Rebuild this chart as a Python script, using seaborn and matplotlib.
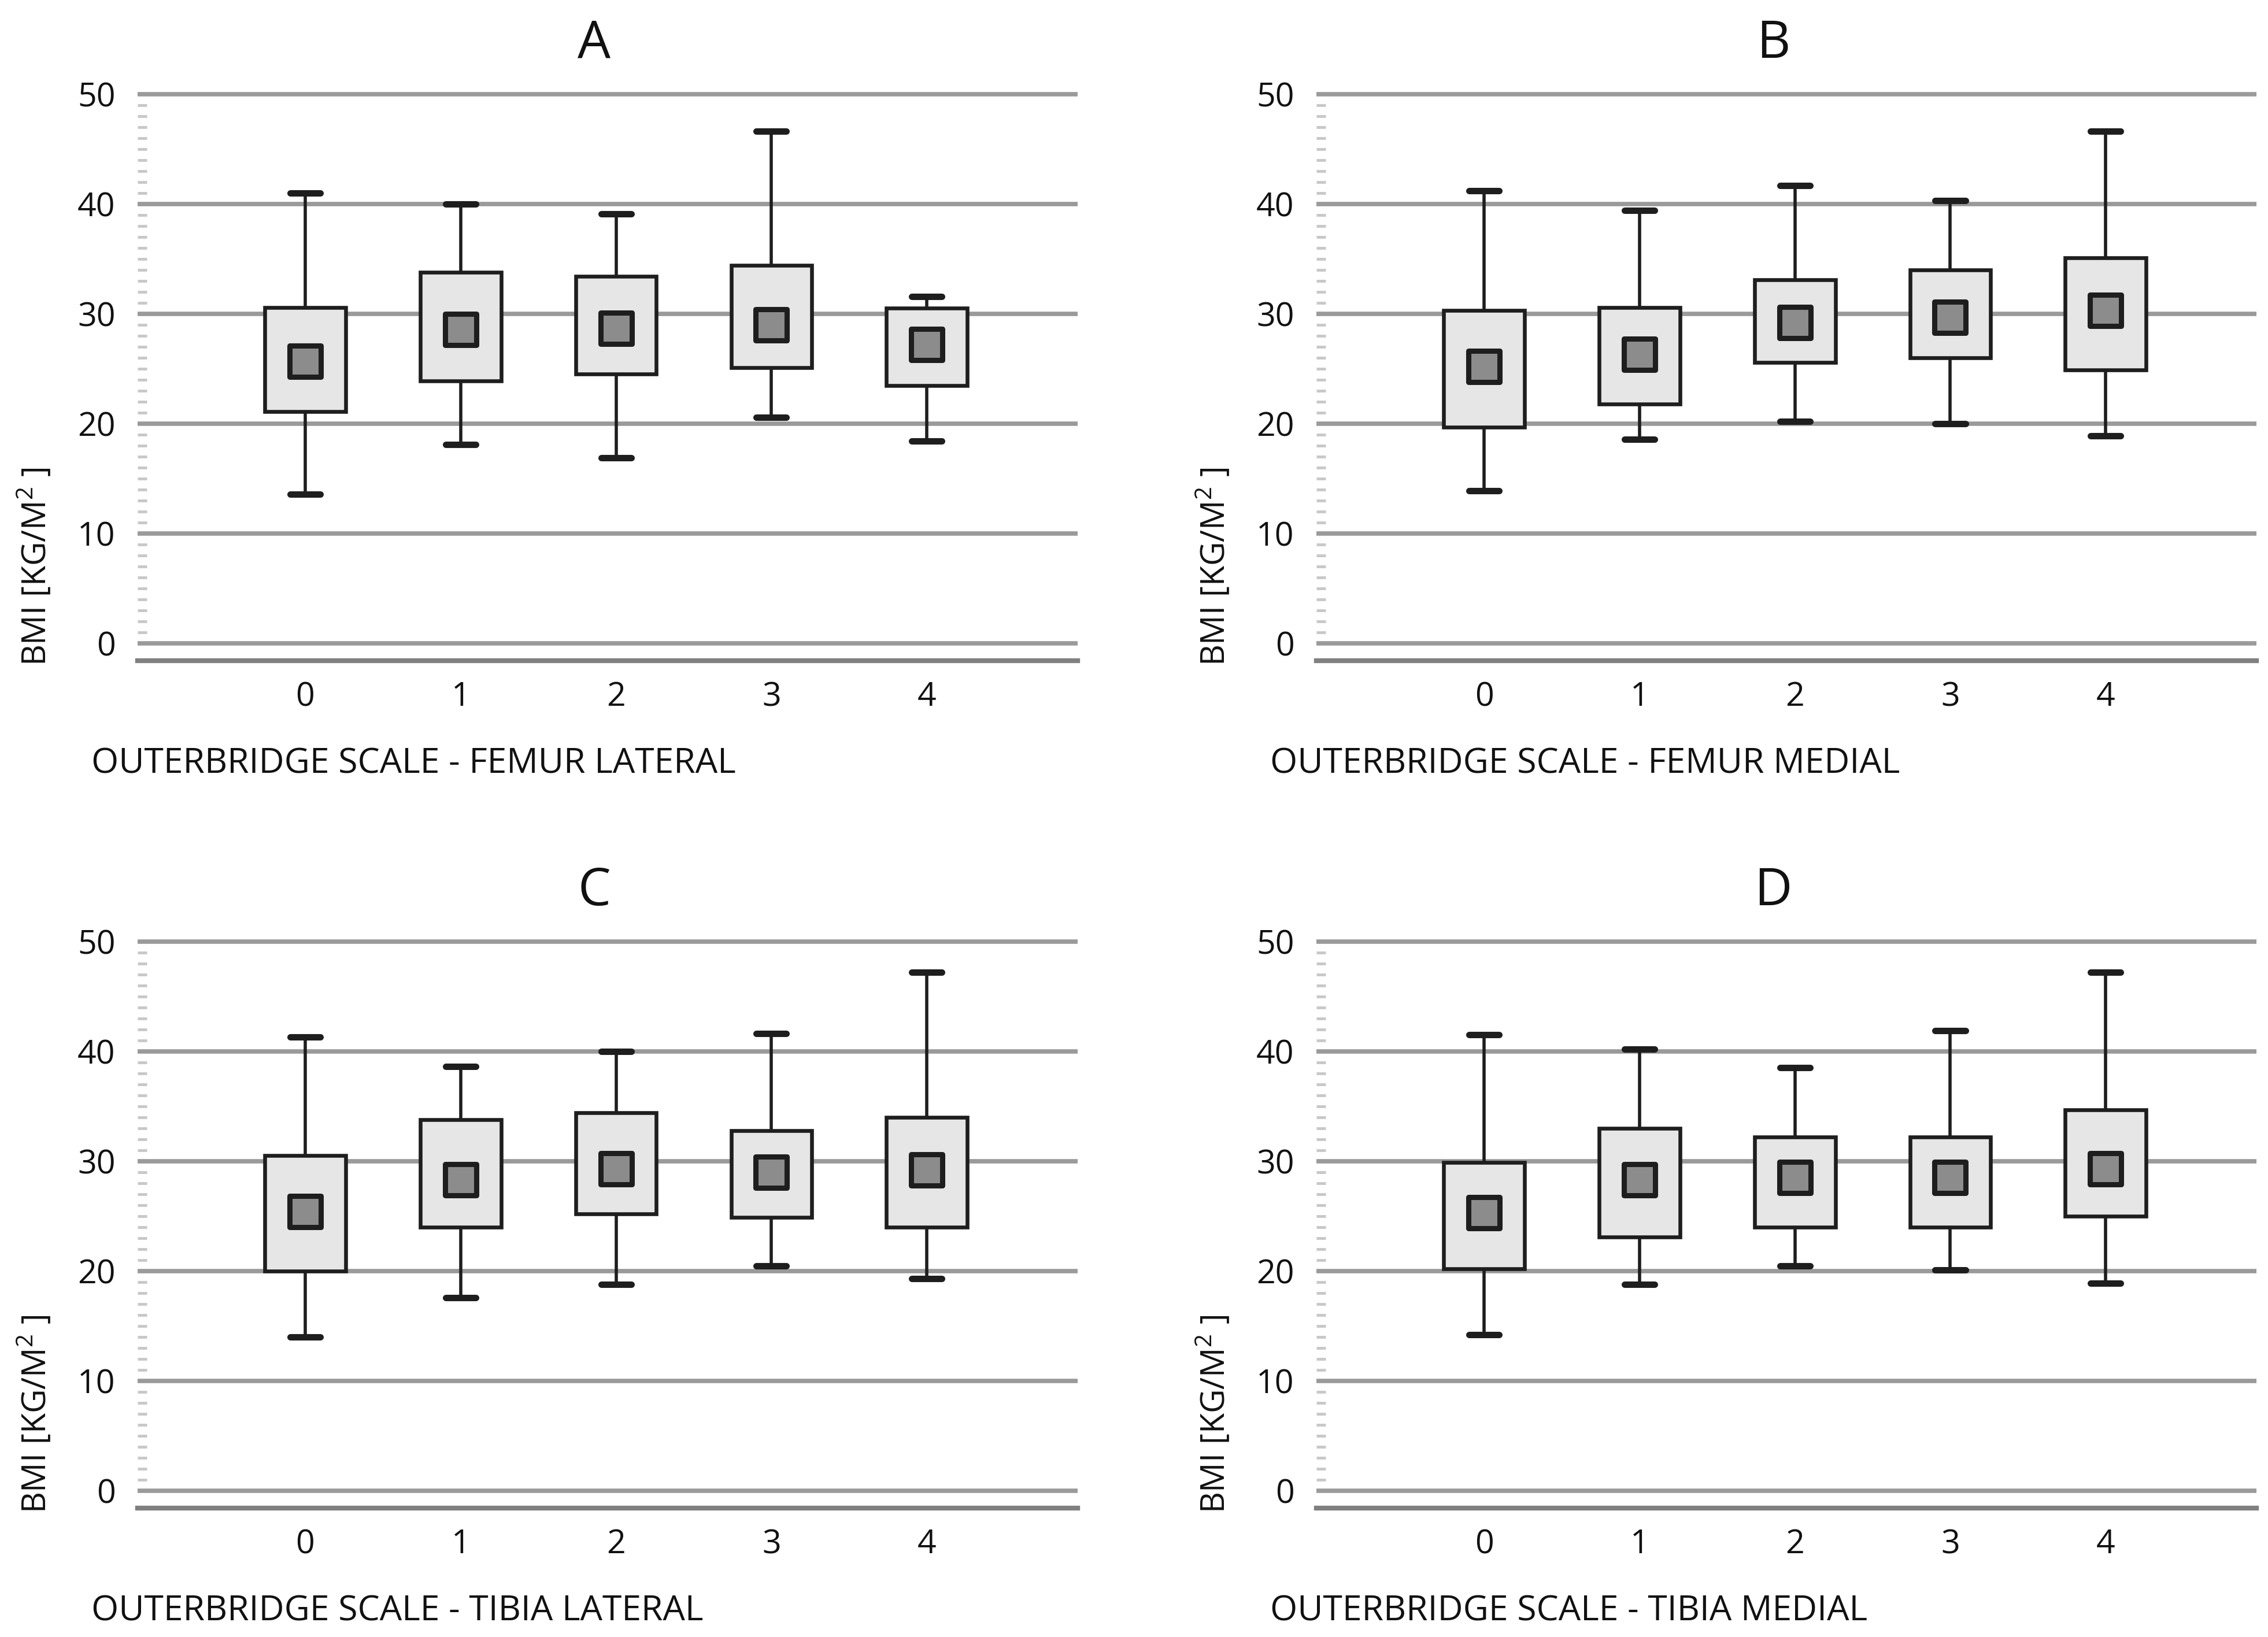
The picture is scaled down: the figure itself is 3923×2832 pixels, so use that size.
import numpy as np
import pandas as pd
import matplotlib
matplotlib.use("Agg")
import matplotlib.pyplot as plt
import seaborn as sns
from matplotlib.ticker import FixedLocator

# ---------------- data ----------------
categories = [0, 1, 2, 3, 4]
tick_labels = ["0", "1", "2", "3", "4"]
y_ticks = [0, 10, 20, 30, 40, 50]
panel_titles = ["A", "B", "C", "D"]
x_labels = [
    "OUTERBRIDGE SCALE - FEMUR LATERAL",
    "OUTERBRIDGE SCALE - FEMUR MEDIAL",
    "OUTERBRIDGE SCALE - TIBIA LATERAL",
    "OUTERBRIDGE SCALE - TIBIA MEDIAL",
]
y_label = "BMI [KG/M$^{2}$ ]"

# Panel A - femur lateral
a_low = [13.6, 18.1, 16.9, 20.6, 18.4]
a_q1 = [21.1, 23.9, 24.5, 25.1, 23.5]
a_med = [25.7, 28.6, 28.7, 29.0, 27.2]
a_q3 = [30.6, 33.8, 33.4, 34.4, 30.5]
a_high = [41.0, 40.0, 39.1, 46.6, 31.6]

# Panel B - femur medial
b_low = [13.9, 18.6, 20.2, 20.0, 18.9]
b_q1 = [19.7, 21.8, 25.6, 26.0, 24.9]
b_med = [25.2, 26.3, 29.2, 29.7, 30.3]
b_q3 = [30.3, 30.6, 33.1, 34.0, 35.1]
b_high = [41.2, 39.4, 41.7, 40.3, 46.6]

# Panel C - tibia lateral
c_low = [14.0, 17.6, 18.8, 20.5, 19.3]
c_q1 = [20.0, 24.0, 25.2, 24.9, 24.0]
c_med = [25.4, 28.3, 29.3, 29.0, 29.2]
c_q3 = [30.5, 33.8, 34.4, 32.8, 34.0]
c_high = [41.3, 38.6, 40.0, 41.6, 47.2]

# Panel D - tibia medial
d_low = [14.2, 18.8, 20.5, 20.1, 18.9]
d_q1 = [20.2, 23.1, 24.0, 24.0, 25.0]
d_med = [25.3, 28.3, 28.5, 28.5, 29.3]
d_q3 = [29.9, 33.0, 32.2, 32.2, 34.7]
d_high = [41.5, 40.2, 38.5, 41.9, 47.2]

panels = [
    (a_low, a_q1, a_med, a_q3, a_high),
    (b_low, b_q1, b_med, b_q3, b_high),
    (c_low, c_q1, c_med, c_q3, c_high),
    (d_low, d_q1, d_med, d_q3, d_high),
]

# ---------------- style ----------------
sns.set_theme(style="white")
plt.rcParams["font.family"] = ["Open Sans", "DejaVu Sans"]
plt.rcParams["mathtext.fontset"] = "custom"
plt.rcParams["mathtext.rm"] = "Open Sans"

BOX_FILL = "#e6e6e6"
EDGE = "#1e1e1e"
MED_FILL = "#8c8c8c"
GRID = "#9a9a9a"

fig = plt.figure(figsize=(3923 / 250, 2832 / 250), dpi=250)
fig.patch.set_facecolor("white")

W = 650 / 1568
H = 395 / 1132
lefts = [95 / 1568, 910 / 1568]
bottoms = [1 - 457 / 1132, 1 - 1043 / 1132]
positions = [
    (lefts[0], bottoms[0]),
    (lefts[1], bottoms[0]),
    (lefts[0], bottoms[1]),
    (lefts[1], bottoms[1]),
]

for i, (stats, (l, b)) in enumerate(zip(panels, positions)):
    ax = fig.add_axes([l, b, W, H])
    low, q1, med, q3, high = stats
    rows = []
    for k, cat in enumerate(tick_labels):
        for v in (low[k], q1[k], med[k], q3[k], high[k]):
            rows.append({"grade": cat, "bmi": v})
    df = pd.DataFrame(rows)
    med_df = pd.DataFrame({"grade": tick_labels, "bmi": med})

    sns.boxplot(
        data=df, x="grade", y="bmi", order=tick_labels, ax=ax,
        whis=(0, 100), width=0.52, color=BOX_FILL, saturation=1,
        linecolor=EDGE, linewidth=1.8, showfliers=False,
        boxprops=dict(facecolor=BOX_FILL, edgecolor=EDGE, linewidth=1.9),
        whiskerprops=dict(color=EDGE, linewidth=1.6),
        capprops=dict(color=EDGE, linewidth=3.2),
        medianprops=dict(linewidth=0, alpha=0),
    )
    # narrow the caps to match the reference
    for ln in ax.lines:
        xd = np.asarray(ln.get_xdata(), dtype=float)
        yd = np.asarray(ln.get_ydata(), dtype=float)
        if len(xd) == 2 and np.isclose(yd[0], yd[1]) and not np.isclose(xd[0], xd[1]):
            c = xd.mean()
            if abs(xd[1] - xd[0]) < 0.4:
                ln.set_xdata([c - 0.097, c + 0.097])

    sns.scatterplot(
        data=med_df, x="grade", y="bmi", ax=ax, marker="s", s=15.5 ** 2,
        color=MED_FILL, edgecolor=EDGE, linewidth=2.6, zorder=5, legend=False,
    )

    ax.set_xlim(-1.08, 4.97)
    ax.set_ylim(-1.58, 50.4)
    ax.set_axisbelow(True)
    ax.yaxis.set_major_locator(FixedLocator(y_ticks))
    ax.yaxis.set_minor_locator(FixedLocator([v for v in range(1, 50) if v % 10 != 0]))
    ax.grid(axis="y", which="major", color=GRID, linewidth=2.2)
    ax.grid(axis="x", visible=False)

    for s in ("top", "right", "left"):
        ax.spines[s].set_visible(False)
    ax.spines["bottom"].set_color("#808080")
    ax.spines["bottom"].set_linewidth(2.4)

    ax.tick_params(axis="y", which="major", length=0, pad=11, labelsize=16.5, labelcolor="#111111")
    ax.tick_params(axis="y", which="minor", direction="in", length=4.5, width=1.4,
                   color="#c8c8c8", left=True)
    ax.tick_params(axis="x", which="major", length=0, pad=10, labelsize=16.5, labelcolor="#111111")
    ax.set_xticks(range(len(tick_labels)))
    ax.set_xticklabels(tick_labels)

    ax.set_xlabel(x_labels[i], fontsize=17.5, ha="left", va="top", color="#111111")
    ax.xaxis.set_label_coords(-0.049, -0.15)
    ax.set_ylabel(y_label, fontsize=16.5, color="#111111")
    ax.yaxis.set_label_coords(-0.089, 0.165)
    ax.set_title(panel_titles[i], fontsize=26, x=0.486, pad=16, color="#111111")

fig.savefig("out.png", dpi=250, facecolor="white")
